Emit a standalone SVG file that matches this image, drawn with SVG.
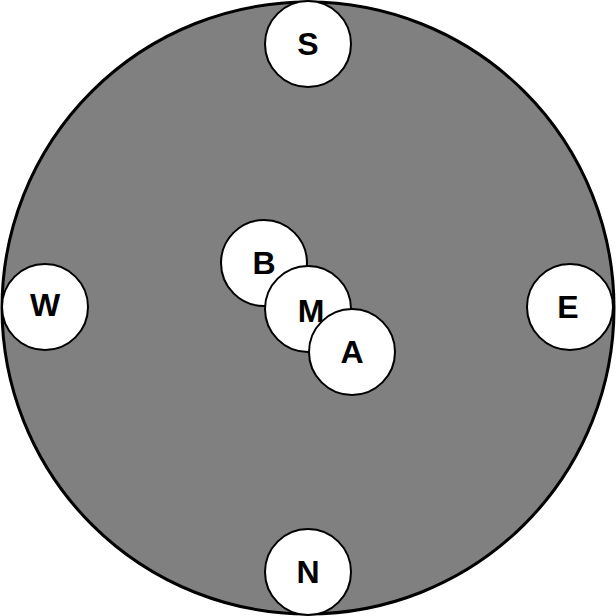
<svg xmlns="http://www.w3.org/2000/svg" width="616" height="616" viewBox="0 0 616 616">
<style>
.n{fill:#fff;stroke:#000;stroke-width:2}
text{font-family:"Liberation Sans",Arial,sans-serif;font-weight:bold;font-size:32px;text-anchor:middle;dominant-baseline:central}
</style>
<rect width="616" height="616" fill="#fff"/>
<g id="board"><circle cx="308" cy="308" r="306" fill="#808080" stroke="#000" stroke-width="3"/></g>
<g id="connectors"></g>
<g id="S"><circle class="n" cx="308" cy="44" r="43"/><text x="308" y="44">S</text></g>
<g id="N"><circle class="n" cx="308" cy="572" r="43"/><text x="308" y="572">N</text></g>
<g id="W"><circle class="n" cx="45" cy="307" r="43"/><text x="45" y="305">W</text></g>
<g id="E"><circle class="n" cx="570" cy="307" r="43"/><text x="568" y="307">E</text></g>
<g id="B"><circle class="n" cx="264" cy="263" r="43"/><text x="264" y="263">B</text></g>
<g id="M"><circle class="n" cx="308" cy="309" r="43"/><text x="311" y="311">M</text></g>
<g id="A"><circle class="n" cx="352" cy="352" r="43"/><text x="352" y="352">A</text></g>
</svg>
